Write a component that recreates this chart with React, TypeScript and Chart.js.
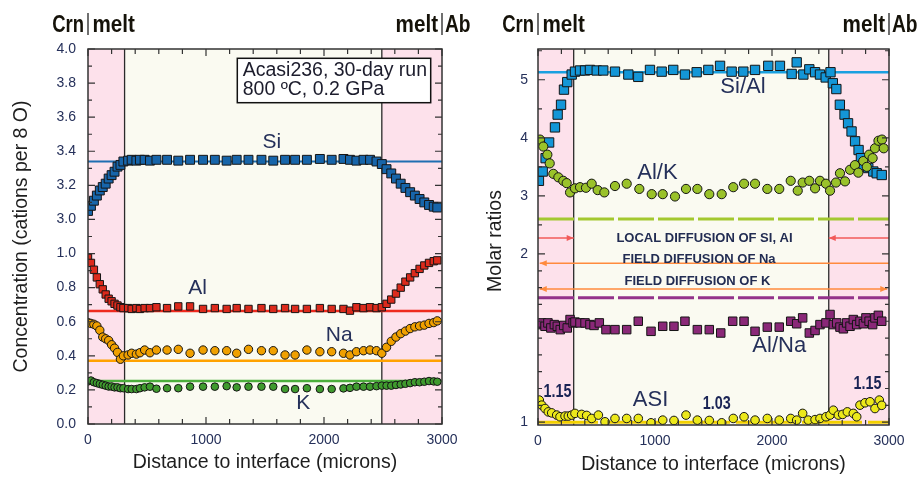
import { useEffect, useRef } from 'react';
import { Chart, registerables } from 'chart.js';
Chart.register(...registerables);

const SANS = '"Liberation Sans", Arial, sans-serif';
const PINK = '#fde1eb';
const IVORY = '#fafaf1';
const INK = '#25305a';

// ---------- Left panel: concentrations (cations per 8 O) ----------
const distL = [0, 25, 50, 75, 100, 125, 150, 175, 200, 225, 250, 275, 300,
  340, 370, 410, 440, 480, 525, 580,
  670, 765, 865, 975, 1075, 1175, 1260, 1360, 1470, 1570, 1670, 1755, 1855, 1965, 2065, 2165,
  2220, 2275, 2335, 2390, 2445, 2490,
  2530, 2570, 2610, 2650, 2690, 2730, 2770, 2810, 2850, 2890, 2930, 2960];
const siL = [3.05, 3.08, 3.11, 3.14, 3.17, 3.19, 3.21, 3.24, 3.26, 3.28, 3.31, 3.32, 3.34,
  3.345, 3.35, 3.345, 3.35, 3.35, 3.345, 3.35,
  3.35, 3.345, 3.35, 3.35, 3.35, 3.345, 3.35, 3.35, 3.35, 3.345, 3.35, 3.35, 3.35, 3.355, 3.35, 3.355,
  3.35, 3.345, 3.35, 3.35, 3.34, 3.325,
  3.295, 3.27, 3.24, 3.21, 3.185, 3.16, 3.14, 3.12, 3.10, 3.085, 3.075, 3.07];
const alL = [0.975, 0.945, 0.905, 0.86, 0.82, 0.79, 0.76, 0.735, 0.72, 0.705, 0.695, 0.685, 0.68,
  0.68, 0.675, 0.68, 0.675, 0.68, 0.68, 0.685,
  0.68, 0.69, 0.69, 0.675, 0.68, 0.675, 0.68, 0.675, 0.68, 0.675, 0.68, 0.675, 0.675, 0.68, 0.675, 0.675,
  0.665, 0.685, 0.68, 0.685, 0.68, 0.685,
  0.705, 0.73, 0.765, 0.80, 0.835, 0.86, 0.885, 0.91, 0.93, 0.945, 0.955, 0.96];
const naL = [0.595, 0.59, 0.585, 0.575, 0.55, 0.51, 0.50, 0.49, 0.465, 0.445, 0.42, 0.38, 0.40,
  0.405, 0.415, 0.41, 0.418, 0.434, 0.418, 0.434,
  0.434, 0.438, 0.415, 0.434, 0.43, 0.43, 0.415, 0.438, 0.43, 0.43, 0.405, 0.405, 0.434, 0.424, 0.424, 0.415,
  0.405, 0.424, 0.43, 0.434, 0.43, 0.415,
  0.45, 0.485, 0.51, 0.53, 0.545, 0.56, 0.57, 0.575, 0.58, 0.59, 0.595, 0.605];
const kL = [0.25, 0.255, 0.245, 0.24, 0.235, 0.23, 0.225, 0.22, 0.22, 0.215, 0.215, 0.21, 0.21,
  0.205, 0.205, 0.205, 0.21, 0.215, 0.219, 0.207,
  0.21, 0.21, 0.219, 0.219, 0.219, 0.222, 0.215, 0.219, 0.219, 0.219, 0.205, 0.205, 0.21, 0.205, 0.205, 0.209,
  0.212, 0.219, 0.219, 0.219, 0.222, 0.225,
  0.225, 0.225, 0.229, 0.232, 0.236, 0.24, 0.245, 0.245, 0.248, 0.252, 0.25, 0.248];
const refSi = 3.34;
const refAl = 0.663;
const refNa = 0.371;
const refK = 0.252;
const interfacesL = [310, 2490];

// ---------- Right panel: molar ratios ----------
const distSiAl = [8, 40, 65, 95, 145, 168, 197, 222, 250, 288, 316, 359, 402, 444, 502, 558, 658, 772, 857, 957,
  1057, 1156, 1256, 1356, 1456, 1556, 1655, 1755, 1855, 1968, 2068, 2168, 2211, 2268, 2319, 2368, 2410, 2459, 2500, 2520,
  2550, 2580, 2620, 2650, 2680, 2710, 2740, 2760, 2780, 2823, 2866, 2895, 2938];
const siAl = [3.26, 3.42, 3.65, 3.92, 4.18, 4.40, 4.57, 4.83, 4.96, 5.09, 5.14, 5.16, 5.16, 5.17, 5.16, 5.16, 5.14, 5.09, 5.05, 5.17,
  5.14, 5.17, 5.09, 5.13, 5.17, 5.24, 5.14, 5.14, 5.17, 5.24, 5.24, 5.10, 5.30, 5.09, 5.18, 5.13, 5.09, 5.04, 5.13, 4.94,
  4.84, 4.57, 4.40, 4.25, 4.11, 3.94, 3.79, 3.65, 3.53, 3.48, 3.42, 3.39, 3.36];
const distAlK = [17, 45, 80, 100, 131, 174, 216, 245, 274, 316, 359, 410, 459, 510, 567, 658, 758, 866, 972, 1066,
  1171, 1265, 1362, 1464, 1570, 1669, 1761, 1855, 1960, 2062, 2160, 2220, 2262, 2319, 2368, 2410, 2461, 2496, 2547, 2581,
  2624, 2667, 2709, 2738, 2780, 2810, 2830, 2860, 2880, 2910, 2940, 2955];
const alK = [3.97, 3.85, 3.71, 3.56, 3.38, 3.32, 3.26, 3.22, 3.06, 3.13, 3.15, 3.14, 3.21, 3.10, 3.06, 3.17, 3.21, 3.12, 3.03, 3.03,
  2.99, 3.12, 3.12, 3.03, 3.03, 3.15, 3.21, 3.21, 3.12, 3.12, 3.26, 3.09, 3.23, 3.26, 3.13, 3.26, 3.21, 3.09, 3.23, 3.39,
  3.25, 3.45, 3.53, 3.40, 3.60, 3.50, 3.71, 3.65, 3.82, 3.95, 3.97, 3.82];
const distAlNa = [5, 30, 60, 85, 110, 140, 165, 190, 220, 250, 274, 300, 316, 359, 402, 444, 479, 524, 581, 658,
  758, 857, 966, 1066, 1162, 1256, 1362, 1464, 1562, 1664, 1761, 1855, 1960, 2062, 2160, 2211, 2262, 2319, 2368, 2410,
  2461, 2496, 2524, 2553, 2581, 2610, 2638, 2667, 2695, 2724, 2752, 2781, 2803, 2830, 2860, 2880, 2909, 2938];
const alNa = [1.58, 1.59, 1.57, 1.59, 1.56, 1.58, 1.57, 1.55, 1.575, 1.56, 1.61, 1.59, 1.595, 1.59, 1.59, 1.58, 1.575, 1.59, 1.55, 1.55,
  1.55, 1.60, 1.54, 1.57, 1.57, 1.60, 1.55, 1.55, 1.53, 1.60, 1.60, 1.54, 1.565, 1.565, 1.60, 1.585, 1.62, 1.53, 1.545, 1.58,
  1.59, 1.64, 1.58, 1.59, 1.565, 1.555, 1.59, 1.57, 1.61, 1.58, 1.60, 1.585, 1.62, 1.60, 1.58, 1.62, 1.635, 1.60];
const distASI = [11, 32, 60, 88, 117, 160, 188, 231, 259, 288, 316, 373, 416, 459, 516, 573, 658, 758, 857, 966,
  1066, 1162, 1265, 1362, 1464, 1570, 1669, 1761, 1855, 1960, 2062, 2160, 2211, 2262, 2310, 2368, 2410, 2461, 2496, 2524,
  2567, 2604, 2644, 2695, 2724, 2752, 2795, 2838, 2880, 2917, 2938];
const asi = [1.131, 1.101, 1.081, 1.061, 1.055, 1.042, 1.032, 1.036, 1.036, 1.042, 1.052, 1.046, 1.04, 1.022, 1.042, 1.002, 1.022, 1.022, 1.022, 0.996,
  1.012, 1.01, 1.042, 1.012, 1.01, 0.996, 1.022, 1.032, 1.012, 1.022, 1.012, 1.022, 1.012, 1.052, 1.012, 1.015, 1.022, 1.032, 1.042, 1.071,
  1.042, 1.046, 1.061, 1.052, 1.032, 1.101, 1.115, 1.121, 1.081, 1.131, 1.10];
const refSiAl = 5.13;
const refAlK = 2.60;
const refAlNa = 1.74;
const refASI = 1.0;
const interfacesR = [305, 2485];

// ---------- axis helpers (broken axes) ----------
const toPosL = (v: number) => (v > 2 ? v - 1.8 : v);
const KR = 168 / 58;
const toPosR = (v: number) => (v >= 2 ? v : 2 - (2 - v) * KR);

const xTicks = Array.from({ length: 16 }, (_, i) => i * 200);
const yTicksL = Array.from({ length: 23 }, (_, i) => i / 10);
const labelL = (p: number) => {
  const r = Math.round(p * 10);
  if (r % 2 !== 0) return '';
  return (r <= 10 ? r / 10 : r / 10 + 1.8).toFixed(1);
};
const yValsR = [1.0, 1.1, 1.2, 1.3, 1.4, 1.5, 1.6, 1.7, 1.8, 1.9, 2, 2.5, 3, 3.5, 4, 4.5, 5, 5.5];
const yLabelsR = yValsR.map((v) => (Number.isInteger(v) ? String(v) : ''));

// ---------- annotations ----------
const textL = [
  { text: 'Si', x: 1557, y: 3.451 },
  { text: 'Al', x: 928, y: 0.796 },
  { text: 'Na', x: 2129, y: 0.522 },
  { text: 'K', x: 1825, y: 0.121 },
];
const textR = [
  { text: 'Si/Al', x: 1752, y: 4.87 },
  { text: 'Al/K', x: 1021, y: 3.39 },
  { text: 'Al/Na', x: 2062, y: 1.454 },
  { text: 'ASI', x: 962, y: 1.131 },
];
const boldNumsR = [
  { text: '1.15', x: 167, y: 1.176 },
  { text: '1.03', x: 1527, y: 1.109 },
  { text: '1.15', x: 2816, y: 1.226 },
];
const diffusionText = [
  { text: 'LOCAL DIFFUSION OF SI, AI', x: 1423, y: 2.276 },
  { text: 'FIELD DIFFUSION OF Na', x: 1376, y: 1.97 },
  { text: 'FIELD DIFFUSION OF K', x: 1363, y: 1.835 },
];
const arrows = [
  { y: 2.276, from: 0, to: 305, heads: ['end'], color: '#f25a5a' },
  { y: 2.276, from: 3000, to: 2485, heads: ['end'], color: '#f25a5a' },
  { y: 1.945, from: 3000, to: 15, heads: ['end'], color: '#ff8a3d' },
  { y: 1.792, from: 15, to: 2985, heads: ['start', 'end'], color: '#ff8a3d' },
];

const pts = (xs: number[], ys: number[], f: (v: number) => number) => xs.map((x, i) => ({ x, y: f(ys[i]) }));
const hline = (v: number, f: (v: number) => number) => [{ x: 0, y: f(v) }, { x: 3000, y: f(v) }];

const scatterDs = (data: any[], style: string, radius: number, fill: string, order: number) => ({
  type: 'scatter', data, pointStyle: style, pointRadius: radius, pointHoverRadius: radius,
  backgroundColor: fill, borderColor: '#151515', borderWidth: 1, showLine: false, order,
});
const lineDs = (data: any[], color: string, width: number, dash: number[], order: number) => ({
  type: 'line', data, borderColor: color, borderWidth: width, borderDash: dash,
  pointRadius: 0, fill: false, tension: 0, order,
});

function arrowHead(ctx: CanvasRenderingContext2D, x: number, y: number, dir: number, color: string) {
  ctx.fillStyle = color;
  ctx.beginPath();
  ctx.moveTo(x, y);
  ctx.lineTo(x - dir * 7, y - 3);
  ctx.lineTo(x - dir * 7, y + 3);
  ctx.closePath();
  ctx.fill();
}

// condensed heavy text (narrow face drawn with a horizontal squeeze)
function condensedText(ctx: CanvasRenderingContext2D, text: string, x: number, y: number, align: 'left' | 'right' | 'center', squeeze: number) {
  ctx.save();
  ctx.translate(x, y);
  ctx.scale(squeeze, 1);
  ctx.textAlign = align;
  ctx.fillText(text, 0, 0);
  ctx.restore();
}

function makeDecor(side: 'L' | 'R') {
  return {
    id: 'decor' + side,
    beforeDatasetsDraw(chart: any) {
      const { ctx, chartArea: ca, scales } = chart;
      const xs = scales.x;
      const ys = scales.y;
      const ifc = side === 'L' ? interfacesL : interfacesR;
      const p0 = xs.getPixelForValue(ifc[0]);
      const p1 = xs.getPixelForValue(ifc[1]);
      ctx.save();
      ctx.fillStyle = PINK;
      ctx.fillRect(ca.left, ca.top, ca.right - ca.left, ca.bottom - ca.top);
      ctx.fillStyle = IVORY;
      ctx.fillRect(p0, ca.top, p1 - p0, ca.bottom - ca.top);
      ctx.strokeStyle = '#2a2a2a';
      ctx.lineWidth = 1.3;
      [p0, p1].forEach((p) => {
        ctx.beginPath();
        ctx.moveTo(p, ca.top);
        ctx.lineTo(p, ca.bottom);
        ctx.stroke();
      });
      if (side === 'R') {
        arrows.forEach((a) => {
          const y = ys.getPixelForValue(toPosR(a.y));
          const xa = xs.getPixelForValue(a.from);
          const xb = xs.getPixelForValue(a.to);
          ctx.strokeStyle = a.color;
          ctx.lineWidth = 1.6;
          ctx.beginPath();
          ctx.moveTo(Math.max(ca.left, Math.min(ca.right, xa)), y);
          ctx.lineTo(Math.max(ca.left, Math.min(ca.right, xb)), y);
          ctx.stroke();
          const dir = Math.sign(xb - xa);
          if (a.heads.includes('end')) arrowHead(ctx, xb, y, dir, a.color);
          if (a.heads.includes('start')) arrowHead(ctx, xa, y, -dir, a.color);
        });
        ctx.font = `bold 13px ${SANS}`;
        ctx.fillStyle = '#222c52';
        ctx.textAlign = 'center';
        ctx.textBaseline = 'middle';
        diffusionText.forEach((t) => {
          ctx.fillText(t.text, xs.getPixelForValue(t.x), ys.getPixelForValue(toPosR(t.y)));
        });
      }
      ctx.restore();
    },
    afterDraw(chart: any) {
      const { ctx, chartArea: ca, scales } = chart;
      const xs = scales.x;
      const ys = scales.y;
      ctx.save();
      // frame
      ctx.strokeStyle = '#333';
      ctx.lineWidth = 1.5;
      ctx.strokeRect(ca.left, ca.top, ca.right - ca.left, ca.bottom - ca.top);
      // inward ticks
      ctx.lineWidth = 1.2;
      xs.ticks.forEach((t: any) => {
        const px = xs.getPixelForValue(t.value);
        const len = t.value % 1000 === 0 ? 7 : 5;
        ctx.beginPath();
        ctx.moveTo(px, ca.bottom); ctx.lineTo(px, ca.bottom - len);
        ctx.moveTo(px, ca.top); ctx.lineTo(px, ca.top + len);
        ctx.stroke();
      });
      ys.ticks.forEach((t: any, i: number) => {
        const py = ys.getPixelForValue(t.value);
        const major = side === 'L' ? labelL(t.value) !== '' : yLabelsR[i] !== '';
        const len = major ? 7 : 4;
        ctx.beginPath();
        ctx.moveTo(ca.left, py); ctx.lineTo(ca.left + len, py);
        ctx.moveTo(ca.right, py); ctx.lineTo(ca.right - len, py);
        ctx.stroke();
      });
      // series labels
      ctx.fillStyle = INK;
      ctx.textAlign = 'center';
      ctx.textBaseline = 'middle';
      if (side === 'L') {
        ctx.font = `21px ${SANS}`;
        textL.forEach((t) => ctx.fillText(t.text, xs.getPixelForValue(t.x), ys.getPixelForValue(toPosL(t.y))));
        // run info box
        const bx = ca.right - 204.7;
        const by = ca.top + 9.3;
        ctx.fillStyle = '#fff';
        ctx.fillRect(bx, by, 193.4, 44.4);
        ctx.strokeStyle = '#111';
        ctx.lineWidth = 1.5;
        ctx.strokeRect(bx, by, 193.4, 44.4);
        ctx.fillStyle = '#1c1c2c';
        ctx.font = `19.5px ${SANS}`;
        ctx.textAlign = 'left';
        ctx.fillText('Acasi236, 30-day run', bx + 5.4, by + 12.6);
        ctx.fillText('800 ºC, 0.2 GPa', bx + 5.4, by + 31.2);
      } else {
        ctx.font = `22px ${SANS}`;
        textR.forEach((t) => ctx.fillText(t.text, xs.getPixelForValue(t.x), ys.getPixelForValue(toPosR(t.y))));
        ctx.font = `bold 17.5px ${SANS}`;
        ctx.fillStyle = '#1a2455';
        boldNumsR.forEach((t) => condensedText(ctx, t.text, xs.getPixelForValue(t.x), ys.getPixelForValue(toPosR(t.y)), 'center', 0.82));
      }
      // axis titles
      ctx.fillStyle = '#1e1e1e';
      ctx.font = `19.5px ${SANS}`;
      ctx.textAlign = 'center';
      ctx.textBaseline = 'middle';
      ctx.fillText('Distance to interface (microns)', (ca.left + ca.right) / 2, side === 'L' ? 463 : 465);
      ctx.save();
      ctx.translate(side === 'L' ? 22 : 36, (ca.top + ca.bottom) / 2 + (side === 'L' ? 0 : 4));
      ctx.rotate(-Math.PI / 2);
      ctx.fillText(side === 'L' ? 'Concentration (cations per 8 O)' : 'Molar ratios', 0, 0);
      ctx.restore();
      // interface headers
      ctx.font = `bold 24px ${SANS}`;
      ctx.fillStyle = '#151209';
      ctx.textBaseline = 'alphabetic';
      const headY = 32;
      condensedText(ctx, 'Crn', ca.left - 4, headY, 'right', 0.77);
      condensedText(ctx, 'melt', ca.right - 4, headY, 'right', 0.86);
      condensedText(ctx, 'melt', ca.left + 4.5, headY, 'left', 0.86);
      condensedText(ctx, 'Ab', ca.right + 3, headY, 'left', 0.8);
      ctx.strokeStyle = '#333';
      ctx.lineWidth = 1.4;
      [ca.left, ca.right].forEach((x: number) => {
        ctx.beginPath();
        ctx.moveTo(x, 13);
        ctx.lineTo(x, 35);
        ctx.stroke();
      });
      ctx.restore();
    },
  };
}

const xScale = (height: number) => ({
  type: 'linear', min: 0, max: 3000,
  afterBuildTicks: (s: any) => { s.ticks = xTicks.map((v) => ({ value: v })); },
  afterFit: (s: any) => { s.height = height; },
  ticks: {
    autoSkip: false, maxRotation: 0, padding: 8, color: INK,
    font: { family: SANS, size: 14 },
    callback: (v: number) => (v % 1000 === 0 ? String(v) : ''),
  },
  grid: { display: false, drawTicks: false },
  border: { display: false },
});

function buildLeft(): any {
  return {
    type: 'scatter',
    data: {
      datasets: [
        lineDs(hline(refSi, toPosL), '#1f6fb2', 2.2, [], 10),
        lineDs(hline(refAl, toPosL), '#ee2a1e', 2.4, [], 10),
        lineDs(hline(refNa, toPosL), '#ffa200', 2.4, [], 10),
        lineDs(hline(refK, toPosL), '#4caf3c', 2.4, [], 10),
        scatterDs(pts(distL, siL, toPosL), 'rect', 6.3, '#1765aa', 1),
        scatterDs(pts(distL, alL, toPosL), 'rect', 5.2, '#dc2a1c', 1),
        scatterDs(pts(distL, naL, toPosL), 'circle', 4.2, '#f0a000', 1),
        scatterDs(pts(distL, kL, toPosL), 'circle', 3.8, '#3f9a2e', 1),
      ],
    },
    options: {
      animation: false, responsive: false, maintainAspectRatio: false,
      layout: { padding: { top: 49, right: 38, left: 0, bottom: 0 } },
      plugins: { legend: { display: false }, tooltip: { enabled: false } },
      scales: {
        x: xScale(60),
        y: {
          type: 'linear', min: 0, max: 2.2,
          afterBuildTicks: (s: any) => { s.ticks = yTicksL.map((v) => ({ value: v })); },
          afterFit: (s: any) => { s.width = 88; },
          ticks: {
            autoSkip: false, padding: 12, color: INK,
            font: { family: SANS, size: 14 },
            callback: (v: number) => labelL(v),
          },
          grid: { display: false, drawTicks: false },
          border: { display: false },
        },
      },
    },
    plugins: [makeDecor('L')],
  };
}

function buildRight(): any {
  return {
    type: 'scatter',
    data: {
      datasets: [
        lineDs(hline(refSiAl, toPosR), '#1aa0e0', 2.4, [], 10),
        lineDs(hline(refAlK, toPosR), '#a3c830', 3, [36, 4], 10),
        lineDs(hline(refAlNa, toPosR), '#93328a', 3, [36, 4], 10),
        lineDs(hline(refASI, toPosR), '#f2d000', 3, [60, 6], 10),
        scatterDs(pts(distSiAl, siAl, toPosR), 'rect', 6.6, '#1496d7', 3),
        scatterDs(pts(distAlK, alK, toPosR), 'circle', 4.6, '#9ac22a', 2),
        scatterDs(pts(distAlNa, alNa, toPosR), 'rect', 6.0, '#8a2878', 2),
        scatterDs(pts(distASI, asi, toPosR), 'circle', 4.3, '#ece81a', 2),
      ],
    },
    options: {
      animation: false, responsive: false, maintainAspectRatio: false,
      layout: { padding: { top: 49, right: 31, left: 0, bottom: 0 } },
      plugins: { legend: { display: false }, tooltip: { enabled: false } },
      scales: {
        x: xScale(59),
        y: {
          type: 'linear', min: toPosR(0.983), max: 5.53,
          afterBuildTicks: (s: any) => { s.ticks = yValsR.map((v) => ({ value: toPosR(v) })); },
          afterFit: (s: any) => { s.width = 78; },
          ticks: {
            autoSkip: false, padding: 10, color: INK,
            font: { family: SANS, size: 14 },
            callback: (_v: number, i: number) => yLabelsR[i],
          },
          grid: { display: false, drawTicks: false },
          border: { display: false },
        },
      },
    },
    plugins: [makeDecor('R')],
  };
}

export default function App() {
  const leftRef = useRef<HTMLCanvasElement>(null);
  const rightRef = useRef<HTMLCanvasElement>(null);
  useEffect(() => {
    const c1 = new Chart(leftRef.current as HTMLCanvasElement, buildLeft());
    const c2 = new Chart(rightRef.current as HTMLCanvasElement, buildRight());
    return () => { c1.destroy(); c2.destroy(); };
  }, []);
  return (
    <div style={{ position: 'absolute', left: 0, top: 0, width: 920, height: 484, background: '#fff' }}>
      <canvas ref={leftRef} width={480} height={484} style={{ position: 'absolute', left: 0, top: 0 }} />
      <canvas ref={rightRef} width={460} height={484} style={{ position: 'absolute', left: 460, top: 0 }} />
    </div>
  );
}
